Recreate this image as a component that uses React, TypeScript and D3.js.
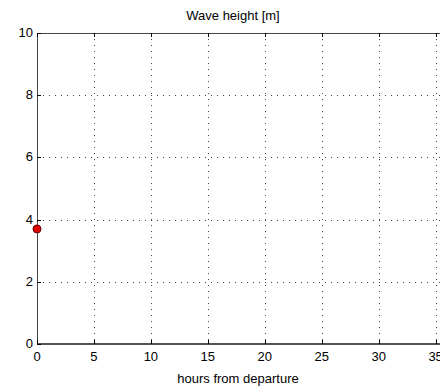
import React from "react";
import * as d3 from "d3";

const xTicks = [0, 5, 10, 15, 20, 25, 30, 35];
const yTicks = [0, 2, 4, 6, 8, 10];
const points = [{ hours: 0, height: 3.7 }];

const width = 440;
const height = 387;
const margin = { top: 33, right: -7, bottom: 43, left: 37 };

function Chart() {
  const ref = React.useRef<SVGSVGElement>(null);

  React.useEffect(() => {
    const svg = d3.select(ref.current);
    svg.selectAll("*").remove();

    const x = d3
      .scaleLinear()
      .domain([0, 36])
      .range([margin.left, width - margin.right]);
    const y = d3
      .scaleLinear()
      .domain([0, 10])
      .range([height - margin.bottom, margin.top]);

    const font = "Arial, 'Liberation Sans', sans-serif";

    // grid
    const grid = svg.append("g").attr("stroke", "#444").attr("stroke-width", 1).attr("stroke-dasharray", "1,5");
    xTicks.filter((t) => t > 0).forEach((t) => {
      grid.append("line")
        .attr("x1", Math.round(x(t)) + 0.5).attr("x2", Math.round(x(t)) + 0.5)
        .attr("y1", y(10)).attr("y2", y(0));
    });
    yTicks.filter((t) => t > 0 && t < 10).forEach((t) => {
      grid.append("line")
        .attr("y1", Math.round(y(t)) + 0.5).attr("y2", Math.round(y(t)) + 0.5)
        .attr("x1", x(0)).attr("x2", x(36));
    });

    // box
    svg.append("line").attr("x1", x(0)).attr("x2", x(36)).attr("y1", Math.round(y(10)) + 0.5).attr("y2", Math.round(y(10)) + 0.5).attr("stroke", "#444");
    svg.append("line").attr("x1", x(0)).attr("x2", x(36)).attr("y1", Math.round(y(0))).attr("y2", Math.round(y(0))).attr("stroke", "#555").attr("stroke-width", 2);
    svg.append("line").attr("x1", Math.round(x(0)) + 0.5).attr("x2", Math.round(x(0)) + 0.5).attr("y1", y(10)).attr("y2", y(0)).attr("stroke", "#444");

    // ticks
    const ticks = svg.append("g").attr("stroke", "#000");
    xTicks.forEach((t) => {
      const xx = Math.round(x(t)) + 0.5;
      ticks.append("line").attr("x1", xx).attr("x2", xx).attr("y1", y(0)).attr("y2", y(0) - 4);
      ticks.append("line").attr("x1", xx).attr("x2", xx).attr("y1", y(10)).attr("y2", y(10) + 4);
    });
    yTicks.forEach((t) => {
      const yy = Math.round(y(t)) + 0.5;
      ticks.append("line").attr("x1", x(0)).attr("x2", x(0) + 4).attr("y1", yy).attr("y2", yy);
    });

    // tick labels
    svg.append("g")
      .selectAll("text")
      .data(xTicks)
      .join("text")
      .attr("x", (d) => x(d))
      .attr("y", y(0) + 17)
      .attr("text-anchor", "middle")
      .attr("font-family", font)
      .attr("font-size", 13)
      .text((d) => d);
    svg.append("g")
      .selectAll("text")
      .data(yTicks)
      .join("text")
      .attr("x", x(0) - 4)
      .attr("y", (d) => y(d) + 4)
      .attr("text-anchor", "end")
      .attr("font-family", font)
      .attr("font-size", 13)
      .text((d) => d);

    // titles
    svg.append("text")
      .attr("x", 233).attr("y", 20)
      .attr("text-anchor", "middle")
      .attr("font-family", font).attr("font-size", 13)
      .text("Wave height [m]");
    svg.append("text")
      .attr("x", 238).attr("y", 383)
      .attr("text-anchor", "middle")
      .attr("font-family", font).attr("font-size", 13)
      .text("hours from departure");

    // points
    svg.append("g")
      .selectAll("circle")
      .data(points)
      .join("circle")
      .attr("cx", (d) => x(d.hours))
      .attr("cy", (d) => y(d.height))
      .attr("r", 4)
      .attr("fill", "#e00000")
      .attr("stroke", "#600")
      .attr("stroke-width", 1);
  }, []);

  return <svg ref={ref} width={width} height={height} style={{ display: "block" }} />;
}

export default function App() {
  return (
    <div style={{ position: "absolute", left: 0, top: 0, background: "#fff" }}>
      <Chart />
    </div>
  );
}
